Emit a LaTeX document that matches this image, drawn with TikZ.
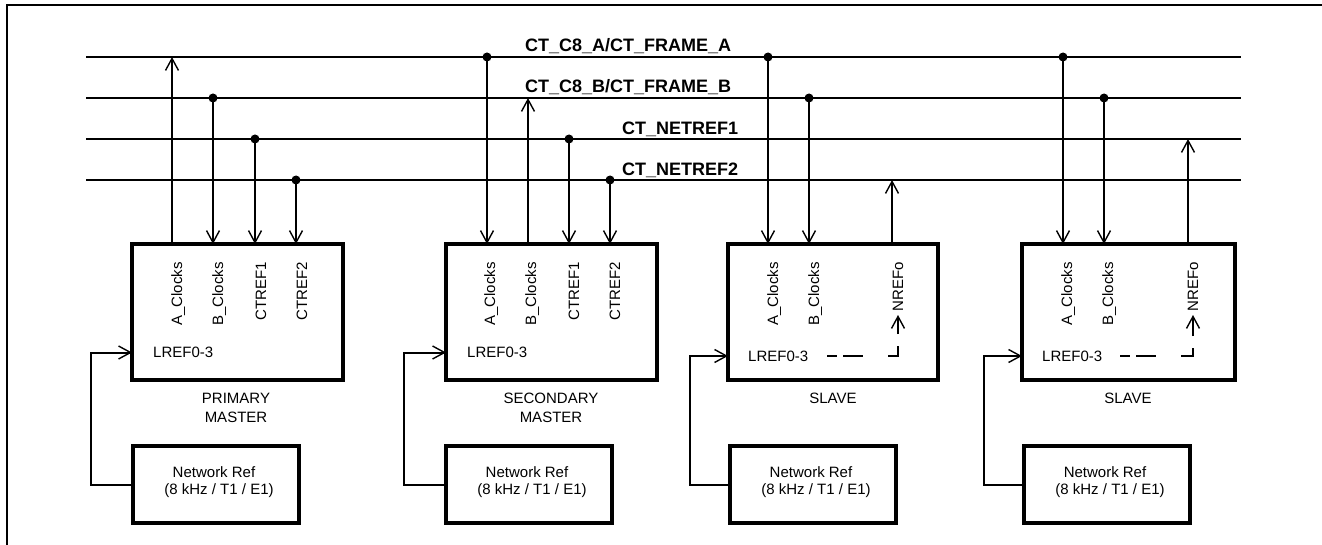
\documentclass[tikz,border=0pt]{standalone}
\usepackage{fontspec}
\setmainfont{Liberation Sans}
\usetikzlibrary{arrows.meta,calc}
\begin{document}
\begin{tikzpicture}[x=1pt,y=-1pt,
  bus/.style={line width=2pt},
  wire/.style={line width=2pt},
  tip/.style={-{Straight Barb[length=12pt,width=13pt,line width=1.4pt]}},
  unit/.style={draw,line width=3.2pt,minimum width=211pt,minimum height=136pt,inner sep=0pt,outer sep=0pt,anchor=north west},
  nref/.style={draw,line width=3.2pt,minimum width=166pt,minimum height=77pt,inner sep=0pt,outer sep=0pt,anchor=north west},
  dot/.style={circle,fill,inner sep=0pt,minimum size=9pt},
  sig/.style={rotate=90,anchor=base east,font=\fontsize{15}{18}\selectfont,inner sep=0pt},
  lbl/.style={font=\fontsize{15}{19}\selectfont,inner sep=0pt},
  busl/.style={font=\bfseries\fontsize{18}{21}\selectfont,anchor=base west,inner sep=0pt},
  lrefdash/.style={dash pattern=on 10pt off 6pt on 20pt off 25pt on 20pt off 12pt on 40pt},
]
\useasboundingbox (0,0) rectangle (1322,545);
\draw[line width=2pt] (7,545) -- (7,5) -- (1322,5);

% buses
\foreach \n/\y in {1/57,2/98,3/139,4/180}{
  \coordinate (L\n w) at (86,\y);
  \coordinate (L\n e) at (1241,\y);
  \draw[bus] (L\n w) -- (L\n e);
}
\node[busl] (bl1) at (525,52) {CT\_C8\_A/CT\_FRAME\_A};
\node[busl] (bl2) at (525,93) {CT\_C8\_B/CT\_FRAME\_B};
\node[busl] (bl3) at (622,135) {CT\_NETREF1};
\node[busl] (bl4) at (622,176) {CT\_NETREF2};

% units
\node[unit] (pm) at (132,244) {};
\node[unit] (sm) at (446,244) {};
\node[unit,minimum width=210pt] (sa) at (728,244) {};
\node[unit,minimum width=213pt] (sb) at (1022,244) {};

% bus taps
\coordinate (pmA) at (172,57);
\coordinate (pmB) at (213,98);
\coordinate (pmC) at (255,139);
\coordinate (pmD) at (296,180);
\coordinate (smA) at (487,57);
\coordinate (smB) at (528,98);
\coordinate (smC) at (569,139);
\coordinate (smD) at (610,180);
\coordinate (saA) at (768,57);
\coordinate (saB) at (809,98);
\coordinate (saN) at (892,180);
\coordinate (sbA) at (1063,57);
\coordinate (sbB) at (1104,98);
\coordinate (sbN) at (1188,139);

% primary master
\draw[wire,tip] (pmA |- pm.north) -- (pmA);
\draw[wire,tip] (pmB) -- (pmB |- pm.north);
\draw[wire,tip] (pmC) -- (pmC |- pm.north);
\draw[wire,tip] (pmD) -- (pmD |- pm.north);
\node[dot] at (pmB) {};
\node[dot] at (pmC) {};
\node[dot] at (pmD) {};
\node[sig] (pmAl) at (182,262) {A\_Clocks};
\node[sig] (pmBl) at (223,262) {B\_Clocks};
\node[sig] (pmCl) at (266,262) {CTREF1};
\node[sig] (pmDl) at (307,262) {CTREF2};

% secondary master
\draw[wire,tip] (smA) -- (smA |- sm.north);
\draw[wire,tip] (smB |- sm.north) -- (smB);
\draw[wire,tip] (smC) -- (smC |- sm.north);
\draw[wire,tip] (smD) -- (smD |- sm.north);
\node[dot] at (smA) {};
\node[dot] at (smC) {};
\node[dot] at (smD) {};
\node[sig] (smAl) at (495,262) {A\_Clocks};
\node[sig] (smBl) at (536,262) {B\_Clocks};
\node[sig] (smCl) at (579,262) {CTREF1};
\node[sig] (smDl) at (620,262) {CTREF2};

% slave 1
\draw[wire,tip] (saA) -- (saA |- sa.north);
\draw[wire,tip] (saB) -- (saB |- sa.north);
\draw[wire,tip] (saN |- sa.north) -- (saN);
\node[dot] at (saA) {};
\node[dot] at (saB) {};
\node[sig] (saAl) at (778,262) {A\_Clocks};
\node[sig] (saBl) at (819,262) {B\_Clocks};
\node[sig] (saNl) at (903,262) {NREFo};

% slave 2
\draw[wire,tip] (sbA) -- (sbA |- sb.north);
\draw[wire,tip] (sbB) -- (sbB |- sb.north);
\draw[wire,tip] (sbN |- sb.north) -- (sbN);
\node[dot] at (sbA) {};
\node[dot] at (sbB) {};
\node[sig] (sbAl) at (1072,262) {A\_Clocks};
\node[sig] (sbBl) at (1113,262) {B\_Clocks};
\node[sig] (sbNl) at (1198,262) {NREFo};

% LREF labels
\node[lbl,anchor=west] (pmL) at (153,352.5) {LREF0-3};
\node[lbl,anchor=west] (smL) at (467,352.5) {LREF0-3};
\node[lbl,anchor=west] (saL) at (748,356) {LREF0-3};
\node[lbl,anchor=west] (sbL) at (1042,356) {LREF0-3};

% internal dashed paths in slaves
\coordinate (saD0) at (827,356);
\coordinate (saD1) at (898,356);
\coordinate (saD2) at (898,315);
\draw[wire,lrefdash,tip] (saD0) -- (saD1) -- (saD2);
\coordinate (sbD0) at (1120,356);
\coordinate (sbD1) at (1193,356);
\coordinate (sbD2) at (1193,315);
\draw[wire,lrefdash,tip] (sbD0) -- (sbD1) -- (sbD2);

% unit titles
\node[lbl,anchor=north,align=center] (pmT) at (236,393) {PRIMARY\\MASTER};
\node[lbl,anchor=north,align=center] (smT) at (551,393) {SECONDARY\\MASTER};
\node[lbl,anchor=north,align=center] (saT) at (833,393) {SLAVE};
\node[lbl,anchor=north,align=center] (sbT) at (1128,393) {SLAVE};

% network references
\node[nref] (pnr) at (133,446) {};
\node[nref] (snr) at (446,446) {};
\node[nref] (anr) at (730,446) {};
\node[nref] (bnr) at (1024,446) {};
\foreach \b in {pnr,snr,anr,bnr}{
  \node[lbl,anchor=base] at ($(\b.center)+(-2,-7.5)$) {Network Ref};
  \node[lbl,anchor=base] at ($(\b.center)+(3,9.5)$) {(8 kHz / T1 / E1)};
}

% reference inputs
\draw[wire,tip] (pnr.west) -- ++(-42,0) |- (pm.west |- pmL.west);
\draw[wire,tip] (snr.west) -- ++(-42,0) |- (sm.west |- smL.west);
\draw[wire,tip] (anr.west) -- ++(-40,0) |- (sa.west |- saL.west);
\draw[wire,tip] (bnr.west) -- ++(-40,0) |- (sb.west |- sbL.west);
\end{tikzpicture}
\end{document}
